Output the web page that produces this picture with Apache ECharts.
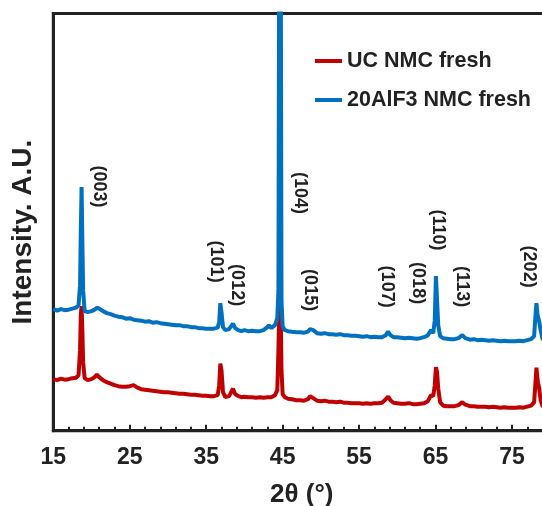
<!DOCTYPE html>
<html>
<head>
<meta charset="utf-8">
<script src="https://cdn.jsdelivr.net/npm/echarts@6/dist/echarts.min.js"></script>
<style>
  html, body { margin: 0; padding: 0; background: #fff; }
  #chart { width: 542px; height: 506px; }
</style>
</head>
<body>
<div id="chart"></div>
<script>
// XRD patterns: diffraction angle 2θ (degrees) and intensity (a.u.)
const twoTheta = [
  15.0, 15.5, 16.0, 16.5, 17.0, 17.5, 18.0, 18.3, 18.5, 18.6,
  18.7, 18.8, 18.9, 19.1, 19.5, 20.0, 20.4, 20.7, 21.0, 21.5,
  22.0, 22.5, 23.0, 23.5, 24.0, 24.5, 25.0, 25.5, 26.0, 26.5,
  27.0, 27.5, 28.0, 28.5, 29.0, 29.5, 30.0, 30.5, 31.0, 31.5,
  32.0, 32.5, 33.0, 33.5, 34.0, 34.5, 35.0, 35.5, 36.0, 36.5,
  36.7, 36.85, 37.0, 37.2, 37.5, 38.0, 38.5, 38.8, 39.2, 39.6,
  40.0, 40.5, 41.0, 41.5, 42.0, 42.5, 43.0, 43.2, 43.5, 44.0,
  44.3, 44.45, 44.55, 44.65, 44.75, 44.85, 45.0, 45.3, 45.7, 46.2,
  46.8, 47.3, 47.8, 48.3, 48.6, 48.8, 49.0, 49.5, 50.0, 50.5,
  51.0, 51.5, 52.0, 52.5, 53.0, 53.5, 54.0, 54.5, 55.0, 55.5,
  56.0, 56.5, 57.0, 57.5, 58.0, 58.5, 58.8, 59.1, 59.5, 60.0,
  60.5, 61.0, 61.5, 62.0, 62.5, 63.0, 63.5, 64.0, 64.4, 64.7,
  64.9, 65.05, 65.2, 65.35, 65.6, 66.0, 66.5, 67.0, 67.5, 68.0,
  68.5, 68.9, 69.5, 70.0, 70.5, 71.0, 71.5, 72.0, 72.5, 73.0,
  73.5, 74.0, 74.5, 75.0, 75.5, 76.0, 76.5, 77.0, 77.5, 77.9,
  78.05, 78.2, 78.35, 78.55, 78.75, 79.0, 79.5, 80.0
];

// UC NMC fresh
const ucNmcFresh = [
  515, 505, 520, 510, 515, 525, 530, 555, 805, 1155,
  1245, 1005, 685, 525, 505, 515, 535, 560, 535, 505,
  485, 470, 455, 445, 440, 440, 445, 455, 430, 415,
  410, 405, 400, 395, 390, 385, 385, 380, 375, 370,
  370, 365, 360, 360, 355, 350, 350, 345, 345, 355,
  455, 670, 605, 385, 335, 345, 420, 365, 345, 335,
  340, 335, 335, 330, 335, 330, 335, 340, 335, 355,
  405, 805, 1205, 1285, 1155, 605, 365, 335, 320, 315,
  305, 305, 300, 315, 345, 360, 325, 300, 295, 300,
  290, 290, 285, 290, 280, 280, 275, 275, 275, 270,
  275, 270, 275, 275, 280, 315, 340, 305, 280, 275,
  270, 270, 275, 265, 265, 270, 275, 295, 355, 345,
  455, 635, 585, 425, 285, 250, 245, 245, 245, 255,
  285, 260, 245, 245, 240, 240, 240, 235, 240, 235,
  230, 235, 230, 230, 230, 235, 230, 240, 250, 285,
  455, 630, 505, 425, 305, 245, 235, 235
];

// 20AlF3 NMC fresh
const alf3NmcFresh = [
  1215, 1200, 1215, 1205, 1210, 1220, 1230, 1255, 1455, 2005,
  2435, 1905, 1405, 1195, 1185, 1195, 1210, 1230, 1220, 1195,
  1175, 1165, 1150, 1140, 1135, 1120, 1125, 1110, 1105, 1100,
  1090, 1095, 1080, 1085, 1075, 1070, 1065, 1060, 1055, 1055,
  1045, 1045, 1035, 1035, 1025, 1025, 1020, 1020, 1020, 1030,
  1085, 1275, 1185, 1035, 1005, 1015, 1070, 1025, 1005, 995,
  1005, 995, 1000, 995, 995, 1005, 1035, 1055, 1025, 1055,
  1125, 1400, 5000, 5400, 5000, 1300, 1045, 1005, 995, 990,
  985, 985, 980, 990, 1015, 1030, 1005, 975, 970, 975,
  965, 965, 960, 965, 955, 955, 950, 950, 945, 940,
  945, 935, 940, 935, 935, 955, 990, 955, 935, 935,
  930, 925, 930, 925, 920, 925, 935, 955, 1005, 975,
  1105, 1545, 1305, 1055, 945, 925, 920, 915, 915, 925,
  955, 925, 910, 915, 905, 910, 905, 900, 905, 900,
  895, 900, 895, 895, 895, 900, 895, 905, 915, 945,
  1125, 1275, 1155, 1095, 1005, 915, 905, 905
];

// Miller-index annotations: text, 2θ position and height (a.u.)
const peakLabels = ['(003)', '(101)', '(012)', '(104)', '(015)', '(107)', '(018)', '(110)', '(113)', '(202)'];
const peakLabelTheta = [20.96, 36.33, 39.08, 47.31, 48.62, 58.61, 62.76, 65.38, 68.5, 77.22];
const peakLabelHeight = [2440, 1690, 1455, 2375, 1405, 1440, 1475, 2005, 1440, 1640];

const seriesNames = ['UC NMC fresh', '20AlF3 NMC fresh'];
const seriesColors = ['#C00000', '#0070C0'];

const FONT = '"Liberation Sans", Arial, Helvetica, sans-serif';
const INK = '#222222';

const chart = echarts.init(document.getElementById('chart'), null, { renderer: 'canvas' });

const pairs = (ys) => twoTheta.map((t, i) => [t, ys[i]]);

chart.setOption({
  animation: false,
  backgroundColor: '#ffffff',
  grid: {
    left: 53.3, top: 13.5, right: -8.2, bottom: 75.3,
    outerBoundsMode: 'none', containLabel: false,
    show: true, borderColor: INK, borderWidth: 3, backgroundColor: 'transparent'
  },
  legend: {
    orient: 'vertical',
    left: 310, top: 45,
    icon: 'rect',
    itemWidth: 27, itemHeight: 4,
    itemGap: 17,
    textStyle: { fontFamily: FONT, fontWeight: 'bold', fontSize: 21.5, color: INK, lineHeight: 22 },
    data: seriesNames
  },
  xAxis: {
    type: 'value', min: 15, max: 80, interval: 10,
    name: '2θ (°)', nameLocation: 'middle', nameGap: 51,
    nameTextStyle: { fontFamily: FONT, fontWeight: 'bold', fontSize: 26, color: INK },
    axisLine: { show: true, lineStyle: { color: INK, width: 3 } },
    axisTick: { show: true, inside: true, length: 6, lineStyle: { color: INK, width: 2 } },
    minorTick: { show: true, splitNumber: 5, length: 4, lineStyle: { color: INK, width: 2 } },
    axisLabel: { margin: 15.5, showMaxLabel: false, fontFamily: FONT, fontWeight: 'bold', fontSize: 23, color: INK },
    splitLine: { show: false }
  },
  yAxis: {
    type: 'value', min: 0, max: 4170,
    name: 'Intensity. A.U.', nameLocation: 'middle', nameGap: 16, nameRotate: 90,
    nameTextStyle: { fontFamily: FONT, fontWeight: 'bold', fontSize: 28, color: INK, padding: [0, 20, 0, 0] },
    axisLine: { show: true, lineStyle: { color: INK, width: 3 } },
    axisTick: { show: false },
    axisLabel: { show: false },
    splitLine: { show: false }
  },
  series: [
    {
      name: seriesNames[0], type: 'line', data: pairs(ucNmcFresh),
      showSymbol: false, symbol: 'none', clip: true,
      lineStyle: { color: seriesColors[0], width: 4 }, itemStyle: { color: seriesColors[0] }
    },
    {
      name: seriesNames[1], type: 'line', data: pairs(alf3NmcFresh),
      showSymbol: false, symbol: 'none', clip: true,
      lineStyle: { color: seriesColors[1], width: 4 }, itemStyle: { color: seriesColors[1] }
    },
    {
      type: 'custom', silent: true, z: 5,
      data: peakLabelTheta.map((t, i) => [t, peakLabelHeight[i]]),
      renderItem: (params, api) => {
        const p = api.coord([api.value(0), api.value(1)]);
        return {
          type: 'text', x: p[0], y: p[1], rotation: -Math.PI / 2,
          style: {
            text: peakLabels[params.dataIndex],
            fontFamily: FONT, fontWeight: 'bold', fontSize: 18, fill: INK,
            align: 'center', verticalAlign: 'middle'
          }
        };
      }
    }
  ]
});
</script>
</body>
</html>
